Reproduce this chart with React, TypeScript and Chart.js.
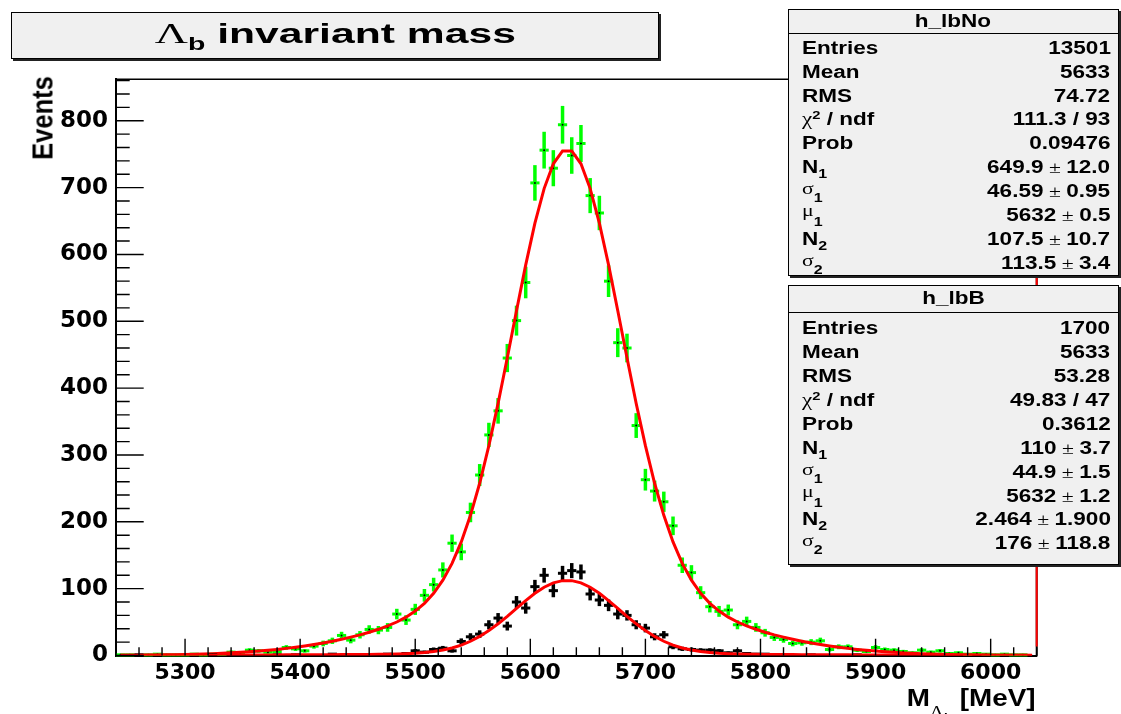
import React, { useEffect, useRef } from 'react';
import { Chart, registerables } from 'chart.js';

Chart.register(...registerables);

// ---------- data ----------
// histogram bin centres (8 MeV bins from 5240 to 6040)
const BIN_CENTERS = [
  5244, 5252, 5260, 5268, 5276, 5284, 5292, 5300, 5308, 5316,
  5324, 5332, 5340, 5348, 5356, 5364, 5372, 5380, 5388, 5396,
  5404, 5412, 5420, 5428, 5436, 5444, 5452, 5460, 5468, 5476,
  5484, 5492, 5500, 5508, 5516, 5524, 5532, 5540, 5548, 5556,
  5564, 5572, 5580, 5588, 5596, 5604, 5612, 5620, 5628, 5636,
  5644, 5652, 5660, 5668, 5676, 5684, 5692, 5700, 5708, 5716,
  5724, 5732, 5740, 5748, 5756, 5764, 5772, 5780, 5788, 5796,
  5804, 5812, 5820, 5828, 5836, 5844, 5852, 5860, 5868, 5876,
  5884, 5892, 5900, 5908, 5916, 5924, 5932, 5940, 5948, 5956,
  5964, 5972, 5980, 5988, 5996, 6004, 6012, 6020, 6028, 6036,
];
const HALF_BIN = 4;

// h_lbNo (green points)
const NO_COUNTS = [
  1, 1, 0, 1, 2, 1, 1, 1, 2, 1,
  2, 2, 5, 3, 8, 7, 5, 6, 12, 10,
  7, 14, 18, 22, 30, 23, 31, 39, 38, 42,
  62, 53, 69, 90, 106, 128, 168, 155, 214, 270,
  330, 366, 445, 501, 558, 707, 756, 729, 794, 748,
  766, 688, 662, 560, 468, 460, 344, 263, 246, 230,
  194, 135, 124, 94, 73, 66, 68, 46, 51, 42,
  34, 27, 24, 18, 19, 20, 22, 9, 13, 13,
  8, 6, 12, 9, 8, 6, 4, 8, 5, 7,
  3, 4, 2, 3, 2, 1, 2, 1, 1, 0,
];

// h_lbB (black points)
const B_COUNTS = [
  0, 0, 1, 0, 0, 0, 0, 0, 0, 0,
  1, 0, 0, 0, 0, 0, 0, 1, 0, 1,
  0, 0, 0, 2, 0, 0, 1, 0, 0, 2,
  0, 3, 7, 5, 9, 11, 7, 21, 28, 32,
  46, 56, 44, 80, 71, 103, 120, 97, 123, 127,
  125, 92, 83, 75, 62, 60, 46, 41, 28, 31,
  13, 10, 9, 8, 8, 7, 4, 7, 3, 2,
  2, 0, 1, 0, 0, 1, 0, 0, 0, 0,
  1, 0, 0, 0, 0, 0, 0, 0, 0, 0,
  0, 0, 0, 0, 0, 0, 0, 0, 0, 0,
];

// fitted curves (red), one value per bin centre
const NO_FIT = [
  0.31, 0.40, 0.50, 0.63, 0.79, 0.98, 1.21, 1.49, 1.83, 2.23,
  2.71, 3.27, 3.93, 4.70, 5.59, 6.62, 7.80, 9.14, 10.66, 12.38,
  14.29, 16.43, 18.78, 21.4, 24.3, 27.5, 30.9, 34.8, 39.2, 44.2,
  50.1, 57.4, 66.4, 78.0, 93.0, 112.6, 137.8, 169.9, 209.7, 257.7,
  313.9, 377.1, 445.4, 515.8, 584.4, 646.8, 698.5, 735.6, 754.9, 754.9,
  735.6, 698.5, 646.8, 584.4, 515.8, 445.4, 377.1, 313.9, 257.7, 209.7,
  169.9, 137.8, 112.6, 93.0, 78.0, 66.4, 57.4, 50.1, 44.2, 39.2,
  34.8, 30.9, 27.5, 24.3, 21.4, 18.78, 16.43, 14.29, 12.38, 10.66,
  9.14, 7.80, 6.62, 5.59, 4.70, 3.93, 3.27, 2.71, 2.23, 1.83,
  1.49, 1.21, 0.98, 0.79, 0.63, 0.50, 0.40, 0.31, 0.24, 0.19,
];
const B_FIT = [
  0.22, 0.24, 0.26, 0.29, 0.32, 0.35, 0.38, 0.42, 0.45, 0.49,
  0.53, 0.58, 0.62, 0.67, 0.72, 0.77, 0.83, 0.88, 0.94, 1.00,
  1.07, 1.13, 1.19, 1.26, 1.33, 1.41, 1.50, 1.60, 1.74, 1.93,
  2.21, 2.65, 3.32, 4.35, 5.9, 8.1, 11.3, 15.6, 21.3, 28.5,
  37.2, 47.4, 58.6, 70.4, 82.2, 93.0, 102.1, 108.6, 112.0, 112.0,
  108.6, 102.1, 93.0, 82.2, 70.4, 58.6, 47.4, 37.2, 28.5, 21.3,
  15.6, 11.3, 8.1, 5.9, 4.35, 3.32, 2.65, 2.21, 1.93, 1.74,
  1.60, 1.50, 1.41, 1.33, 1.26, 1.19, 1.13, 1.07, 1.00, 0.94,
  0.88, 0.83, 0.77, 0.72, 0.67, 0.62, 0.58, 0.53, 0.49, 0.45,
  0.42, 0.38, 0.35, 0.32, 0.29, 0.26, 0.24, 0.22, 0.20, 0.18,
];

const X_MIN = 5240;
const X_MAX = 6040;
const Y_MIN = 0;
const Y_MAX = 862;
const X_TICKS = [5300, 5400, 5500, 5600, 5700, 5800, 5900, 6000];
const Y_TICKS = [0, 100, 200, 300, 400, 500, 600, 700, 800];
const X_MAJOR = 100;
const Y_MAJOR = 100;
const X_MINOR = 20;
const Y_MINOR = 20;

const TITLE_MAIN = ' invariant mass';
const Y_TITLE = 'Events';
const X_TITLE_UNIT = ' [MeV]';

const STAT_LABELS = ['Entries', 'Mean', 'RMS', 'χ2 / ndf', 'Prob', 'N1', 'σ1', 'μ1', 'N2', 'σ2'];
const STATS_NO_NAME = 'h_lbNo';
const STATS_NO_VALUES = ['13501', '5633', '74.72', '111.3 / 93', '0.09476', '649.9 ± 12.0', '46.59 ± 0.95', '5632 ± 0.5', '107.5 ± 10.7', '113.5 ± 3.4'];
const STATS_B_NAME = 'h_lbB';
const STATS_B_VALUES = ['1700', '5633', '53.28', '49.83 / 47', '0.3612', '110 ± 3.7', '44.9 ± 1.5', '5632 ± 1.2', '2.464 ± 1.900', '176 ± 118.8'];

// ---------- styling ----------
const SANS = "'Liberation Sans', Arial, Helvetica, sans-serif";
const SERIF = "'Liberation Serif', 'Times New Roman', serif";
const TICK_FONT = "'DejaVu Sans', 'Liberation Sans', sans-serif";
const GREEN = '#00ff00';
const RED = '#ff0000';
const BOX_BG = '#f0f0f0';

const errorBarPlugin = {
  id: 'errorBars',
  beforeDatasetDraw(chart: any, args: any) {
    const ds = chart.data.datasets[args.index];
    if (!ds.errColor) return;
    const { ctx, scales } = chart;
    const xs = scales.x;
    const ys = scales.y;
    ctx.save();
    ctx.strokeStyle = ds.errColor;
    ctx.lineCap = 'butt';
    for (const p of ds.data) {
      const px = xs.getPixelForValue(p.x);
      const py = ys.getPixelForValue(p.y);
      const e = Math.sqrt(p.y);
      ctx.lineWidth = 3.5;
      ctx.beginPath();
      ctx.moveTo(px, ys.getPixelForValue(p.y - e));
      ctx.lineTo(px, ys.getPixelForValue(p.y + e));
      ctx.stroke();
      ctx.lineWidth = 3;
      ctx.beginPath();
      ctx.moveTo(xs.getPixelForValue(p.x - HALF_BIN), py);
      ctx.lineTo(xs.getPixelForValue(p.x + HALF_BIN), py);
      ctx.stroke();
    }
    ctx.restore();
  },
};

const framePlugin = {
  id: 'rootFrame',
  afterDatasetsDraw(chart: any) {
    const { ctx, chartArea: a, scales } = chart;
    const xs = scales.x;
    const ys = scales.y;
    ctx.save();
    ctx.strokeStyle = '#000';
    ctx.lineWidth = 1.4;
    ctx.beginPath();
    for (let v = Y_MIN; v <= Y_MAX; v += Y_MINOR) {
      const py = ys.getPixelForValue(v);
      const len = v % Y_MAJOR === 0 ? 27.7 : 13.7;
      ctx.moveTo(a.left, py);
      ctx.lineTo(a.left + len, py);
    }
    for (let v = X_MIN; v <= X_MAX; v += X_MINOR) {
      const px = xs.getPixelForValue(v);
      const len = v % X_MAJOR === 0 ? 16.7 : 8.3;
      ctx.moveTo(px, a.bottom);
      ctx.lineTo(px, a.bottom - len);
    }
    ctx.stroke();
    ctx.lineWidth = 1.5;
    ctx.beginPath();
    ctx.moveTo(a.left, a.top);
    ctx.lineTo(a.right, a.top);
    ctx.stroke();
    ctx.lineWidth = 2;
    ctx.beginPath();
    ctx.moveTo(a.right, a.top);
    ctx.lineTo(a.right, a.bottom + 1);
    ctx.stroke();
    ctx.strokeStyle = RED;
    ctx.beginPath();
    ctx.moveTo(a.right, a.top);
    ctx.lineTo(a.right, a.bottom - 9);
    ctx.stroke();
    ctx.restore();
  },
};

const SUB: React.CSSProperties = { fontSize: 12.5, position: 'relative', top: 5 };

function StatLabel({ text }: { text: string }) {
  if (text.startsWith('χ')) {
    return (
      <>
        <span style={{ fontFamily: SERIF, fontWeight: 400, fontSize: 18 }}>χ</span>
        <span style={{ fontSize: 11.5, position: 'relative', top: -6 }}>{text[1]}</span>
        {text.slice(2)}
      </>
    );
  }
  const m = text.match(/^(.)(\d)$/);
  if (m) {
    if (m[1] === 'N') return (<>N<span style={SUB}>{m[2]}</span></>);
    const lift = m[1] === 'μ' ? -5 : -3;
    return (
      <>
        <span style={{ fontFamily: SERIF, fontWeight: 400, fontSize: 17, position: 'relative', top: lift }}>{m[1]}</span>
        <span style={SUB}>{m[2]}</span>
      </>
    );
  }
  return <>{text}</>;
}

function StatValue({ text }: { text: string }) {
  const parts = text.split(' ± ');
  if (parts.length === 2) {
    return (
      <>
        {parts[0]}
        <span style={{ fontWeight: 400, fontFamily: SERIF, fontSize: 17 }}> ± </span>
        {parts[1]}
      </>
    );
  }
  return <>{text}</>;
}

const SX = 1.28;

function StatsBox(props: { left: number; top: number; width: number; height: number; header: number; headerCenter: number; firstRow: number; name: string; values: string[] }) {
  const { left, top, width, height, header, headerCenter, firstRow, name, values } = props;
  const rowStep = 23.9;
  const lh = 22;
  return (
    <div
      style={{
        position: 'absolute', left, top, width, height, boxSizing: 'border-box',
        background: BOX_BG, border: '1px solid #000', boxShadow: '2px 2px 0 #222',
        fontFamily: SANS, fontWeight: 700, fontSize: 17.6, color: '#000',
      }}
    >
      <div style={{ position: 'absolute', left: 0, right: 0, top: header, height: 0, borderTop: '1px solid #000' }} />
      <div style={{ position: 'absolute', left: 0, right: 0, top: headerCenter - lh / 2, height: lh, lineHeight: lh + 'px', textAlign: 'center' }}>
        <span style={{ display: 'inline-block', transform: `scaleX(${SX})` }}>{name}</span>
      </div>
      {STAT_LABELS.map((lab, i) => (
        <div key={lab} style={{ position: 'absolute', left: 13, right: 7, top: firstRow + i * rowStep - lh / 2, height: lh, lineHeight: lh + 'px', whiteSpace: 'nowrap' }}>
          <span style={{ position: 'absolute', left: 0, top: 0, transform: `scaleX(${SX})`, transformOrigin: 'left center' }}>
            <StatLabel text={lab} />
          </span>
          <span style={{ position: 'absolute', right: 0, top: 0, transform: `scaleX(${SX})`, transformOrigin: 'right center' }}>
            <StatValue text={values[i]} />
          </span>
        </div>
      ))}
    </div>
  );
}

export default function App() {
  const ref = useRef<HTMLCanvasElement>(null);

  useEffect(() => {
    const pts = (vals: number[]) => BIN_CENTERS.map((x, i) => ({ x, y: vals[i] })).filter((p) => p.y > 0);
    const curve = (vals: number[]) => BIN_CENTERS.map((x, i) => ({ x, y: vals[i] }));
    const chart = new Chart(ref.current as HTMLCanvasElement, {
      type: 'scatter',
      data: {
        datasets: [
          {
            label: STATS_NO_NAME,
            data: pts(NO_COUNTS),
            errColor: GREEN,
            pointRadius: 1,
            pointBackgroundColor: '#000',
            pointBorderWidth: 0,
            order: 4,
          } as any,
          {
            label: STATS_NO_NAME + ' fit',
            data: curve(NO_FIT),
            showLine: true,
            borderColor: RED,
            borderWidth: 3,
            pointRadius: 0,
            tension: 0,
            order: 3,
          },
          {
            label: STATS_B_NAME,
            data: pts(B_COUNTS),
            errColor: '#000',
            pointRadius: 1,
            pointBackgroundColor: '#000',
            pointBorderWidth: 0,
            order: 2,
          } as any,
          {
            label: STATS_B_NAME + ' fit',
            data: curve(B_FIT),
            showLine: true,
            borderColor: RED,
            borderWidth: 3,
            pointRadius: 0,
            tension: 0,
            order: 1,
          },
        ],
      },
      options: {
        animation: false,
        responsive: false,
        devicePixelRatio: 1,
        layout: { padding: { top: 79.3, right: 84.3, left: 0, bottom: 0 } },
        plugins: { legend: { display: false }, tooltip: { enabled: false }, title: { display: false } },
        scales: {
          x: {
            type: 'linear',
            min: X_MIN,
            max: X_MAX,
            grid: { display: false, drawTicks: false },
            border: { display: true, color: '#000', width: 2 },
            afterBuildTicks: (s: any) => { s.ticks = X_TICKS.map((value) => ({ value })); },
            ticks: {
              autoSkip: false,
              maxRotation: 0,
              padding: 5,
              color: '#000',
              font: { family: TICK_FONT, weight: 'bold', size: 22 },
              callback: (v: any) => String(v),
            },
            afterFit: (s: any) => { s.height = 58.5; },
          },
          y: {
            type: 'linear',
            min: Y_MIN,
            max: Y_MAX,
            grid: { display: false, drawTicks: false },
            border: { display: true, color: '#000', width: 2 },
            afterBuildTicks: (s: any) => { s.ticks = Y_TICKS.map((value) => ({ value })); },
            ticks: {
              autoSkip: false,
              padding: 8,
              color: '#000',
              font: { family: TICK_FONT, weight: 'bold', size: 23 },
              callback: (v: any) => String(v),
            },
            afterFit: (s: any) => { s.width = 116; },
          },
        },
      } as any,
      plugins: [errorBarPlugin, framePlugin],
    });
    return () => chart.destroy();
  }, []);

  return (
    <div style={{ position: 'absolute', left: 0, top: 0, width: 1121, height: 714, overflow: 'hidden', background: '#fff' }}>
      <canvas ref={ref} width={1121} height={714} style={{ position: 'absolute', left: 0, top: 0, display: 'block' }} />

      {/* title box */}
      <div
        style={{
          position: 'absolute', left: 11, top: 12, width: 648, height: 47, boxSizing: 'border-box',
          background: BOX_BG, border: '1px solid #000', boxShadow: '2px 2px 0 #222',
          display: 'flex', alignItems: 'center', justifyContent: 'center',
        }}
      >
        <span style={{ display: 'inline-block', transform: 'scaleX(1.58)', whiteSpace: 'nowrap', fontFamily: SANS, fontWeight: 700, fontSize: 27, lineHeight: '27px', color: '#000' }}>
          <span style={{ fontFamily: SERIF, fontWeight: 400, fontSize: 29 }}>Λ</span>
          <span style={{ fontSize: 18, position: 'relative', top: 7 }}>b</span>
          {TITLE_MAIN}
        </span>
      </div>

      {/* y axis title */}
      <div
        style={{
          position: 'absolute', left: 43, top: 118, transform: 'translate(-50%, -50%) rotate(-90deg) scaleX(0.88)',
          fontFamily: SANS, fontWeight: 700, fontSize: 29, lineHeight: '29px', whiteSpace: 'nowrap', color: '#000',
        }}
      >
        {Y_TITLE}
      </div>

      {/* x axis title */}
      <div
        style={{
          position: 'absolute', right: 1121 - 1036, top: 687, transform: 'scaleX(1.21)', transformOrigin: 'right center',
          fontFamily: SANS, fontWeight: 700, fontSize: 23, lineHeight: '23px', whiteSpace: 'nowrap', color: '#000',
        }}
      >
        M
        <span style={{ fontFamily: SERIF, fontWeight: 400, fontSize: 16, position: 'relative', top: 11 }}>Λ</span>
        <span style={{ fontSize: 11, position: 'relative', top: 15 }}>b</span>
        {X_TITLE_UNIT}
      </div>

      <StatsBox left={787.5} top={9.3} width={331} height={267} header={23} headerCenter={11} firstRow={37.5} name={STATS_NO_NAME} values={STATS_NO_VALUES} />
      <StatsBox left={787.5} top={284.7} width={331} height={280.5} header={26.6} headerCenter={12.5} firstRow={42.6} name={STATS_B_NAME} values={STATS_B_VALUES} />
    </div>
  );
}
